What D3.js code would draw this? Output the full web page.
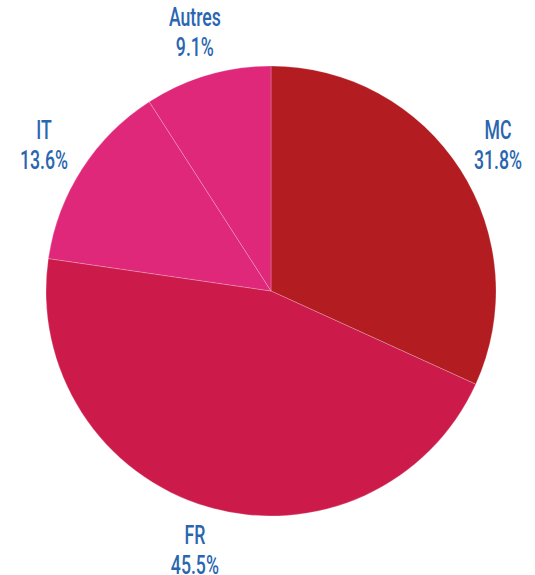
<!DOCTYPE html>
<html>
<head>
<meta charset="utf-8">
<script src="https://cdn.jsdelivr.net/npm/d3@7"></script>
<style>
  body { margin: 0; background: #fff; }
  .lbl { font-family: "Roboto", "DejaVu Sans Condensed", sans-serif; font-weight: 500; fill: #2a66b0; }
</style>
</head>
<body>
<svg></svg>
<script>
var width = 535;
var height = 575;
var cx = 271, cy = 291;
var radius = 225;
var label_radius = 270;

var categories = ["MC", "FR", "IT", "Autres"];
var values = [31.8, 45.5, 13.6, 9.1];
var colors = ["#b31d22", "#cc1b4b", "#e0287a", "#e0287a"];

var svg = d3.select("svg").attr("width", width).attr("height", height);
var g = svg.append("g").attr("transform", "translate(" + cx + "," + cy + ")");

var data = categories.map(function (c, i) { return { name: c, value: values[i], color: colors[i] }; });

var pie = d3.pie().value(function (d) { return d.value; }).sort(null);
var arc = d3.arc().innerRadius(0).outerRadius(radius);
var labelArc = d3.arc().innerRadius(label_radius).outerRadius(label_radius);

var arcs = pie(data);

g.selectAll("path.slice")
  .data(arcs)
  .enter().append("path")
  .attr("class", "slice")
  .attr("d", arc)
  .attr("fill", function (d) { return d.data.color; })
  .attr("stroke", "rgba(255,255,255,0.35)")
  .attr("stroke-width", 0.6);

// labels: condensed look via horizontal squeeze
var lbl = g.selectAll("g.lbl")
  .data(arcs)
  .enter().append("g")
  .attr("class", "lbl")
  .attr("transform", function (d) {
    var c = labelArc.centroid(d);
    return "translate(" + c[0] + "," + c[1] + ") scale(0.68,1)";
  });

lbl.append("text")
  .attr("text-anchor", "middle")
  .attr("y", -6)
  .style("font-size", "26px")
  .text(function (d) { return d.data.name; });

lbl.append("text")
  .attr("text-anchor", "middle")
  .attr("y", 24)
  .style("font-size", "26px")
  .text(function (d) { return d.data.value.toFixed(1) + "%"; });
</script>
</body>
</html>
